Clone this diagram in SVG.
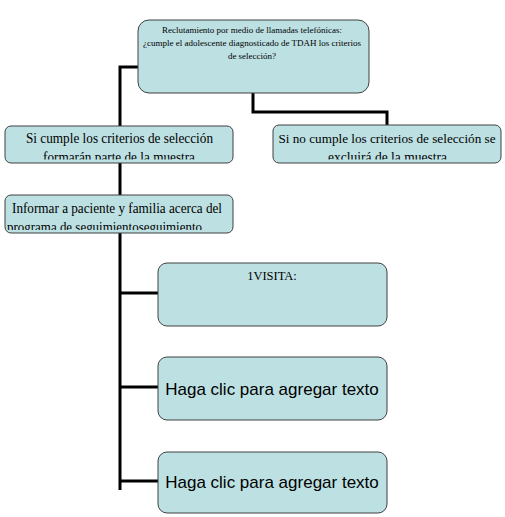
<svg xmlns="http://www.w3.org/2000/svg" width="505" height="517" viewBox="0 0 505 517">
<style>
.box{fill:#BDE0E3;stroke:#404040;stroke-width:1}
.conn{fill:none;stroke:#000;stroke-width:3}
.serif{font-family:"Liberation Serif","Times New Roman",serif;fill:#000}
.sans{font-family:"Liberation Sans",Arial,sans-serif;fill:#000}
.t15{font-size:15px}
</style>
<defs>
<clipPath id="c1"><rect x="5" y="126" width="228" height="33.5"/></clipPath>
<clipPath id="c2"><rect x="273" y="146" width="228" height="13.5"/></clipPath>
<clipPath id="c3"><rect x="5" y="215" width="228" height="15"/></clipPath>
</defs>
<rect width="505" height="517" fill="#fff"/>
<g id="connectors">
<path class="conn" d="M138,67 H120 V490"/>
<path class="conn" d="M253,93 V112 H387 V125"/>
<path class="conn" d="M120,293 H158"/>
<path class="conn" d="M120,387 H158"/>
<path class="conn" d="M120,481 H158"/>
</g>
<g id="top">
<rect class="box" x="138" y="20" width="231" height="73" rx="11"/>
<text class="serif" font-size="9" text-anchor="middle"><tspan x="252" y="33">Reclutamiento por medio de llamadas telefónicas:</tspan><tspan x="252" y="46">¿cumple el adolescente diagnosticado de TDAH  los criterios</tspan><tspan x="252" y="59">de selección?</tspan></text>
</g>
<g id="si">
<rect class="box" x="5" y="126" width="228" height="37" rx="6"/>
<text class="serif t15" x="26" y="143" textLength="187" lengthAdjust="spacingAndGlyphs">Si cumple los criterios de selección</text>
<text class="serif t15" x="43" y="162" textLength="152" lengthAdjust="spacingAndGlyphs" clip-path="url(#c1)">formarán parte de la muestra</text>
</g>
<g id="no">
<rect class="box" x="273" y="125" width="228" height="38" rx="6"/>
<text class="serif" font-size="13.2" x="387" y="143" text-anchor="middle">Si no cumple los criterios de selección se</text>
<text class="serif t15" x="328" y="162" textLength="119" lengthAdjust="spacingAndGlyphs" clip-path="url(#c2)">excluirá de la muestra</text>
</g>
<g id="informar">
<rect class="box" x="5" y="195" width="228" height="38" rx="6"/>
<text class="serif t15" x="12" y="213" textLength="210" lengthAdjust="spacingAndGlyphs">Informar a paciente y familia acerca del</text>
<text class="serif t15" x="7" y="232" textLength="195" lengthAdjust="spacingAndGlyphs" clip-path="url(#c3)">programa de seguimientoseguimiento</text>
</g>
<g id="visita1">
<rect class="box" x="158" y="263" width="229" height="63" rx="9"/>
<text class="serif" font-size="12.5" text-anchor="middle" x="272" y="280">1VISITA:</text>
</g>
<g id="visita2">
<rect class="box" x="158" y="357" width="229" height="63" rx="9"/>
<text class="sans" font-size="17" text-anchor="middle" x="272" y="395">Haga clic para agregar texto</text>
</g>
<g id="visita3">
<rect class="box" x="158" y="452" width="229" height="61" rx="9"/>
<text class="sans" font-size="17" text-anchor="middle" x="272" y="488">Haga clic para agregar texto</text>
</g>
</svg>
